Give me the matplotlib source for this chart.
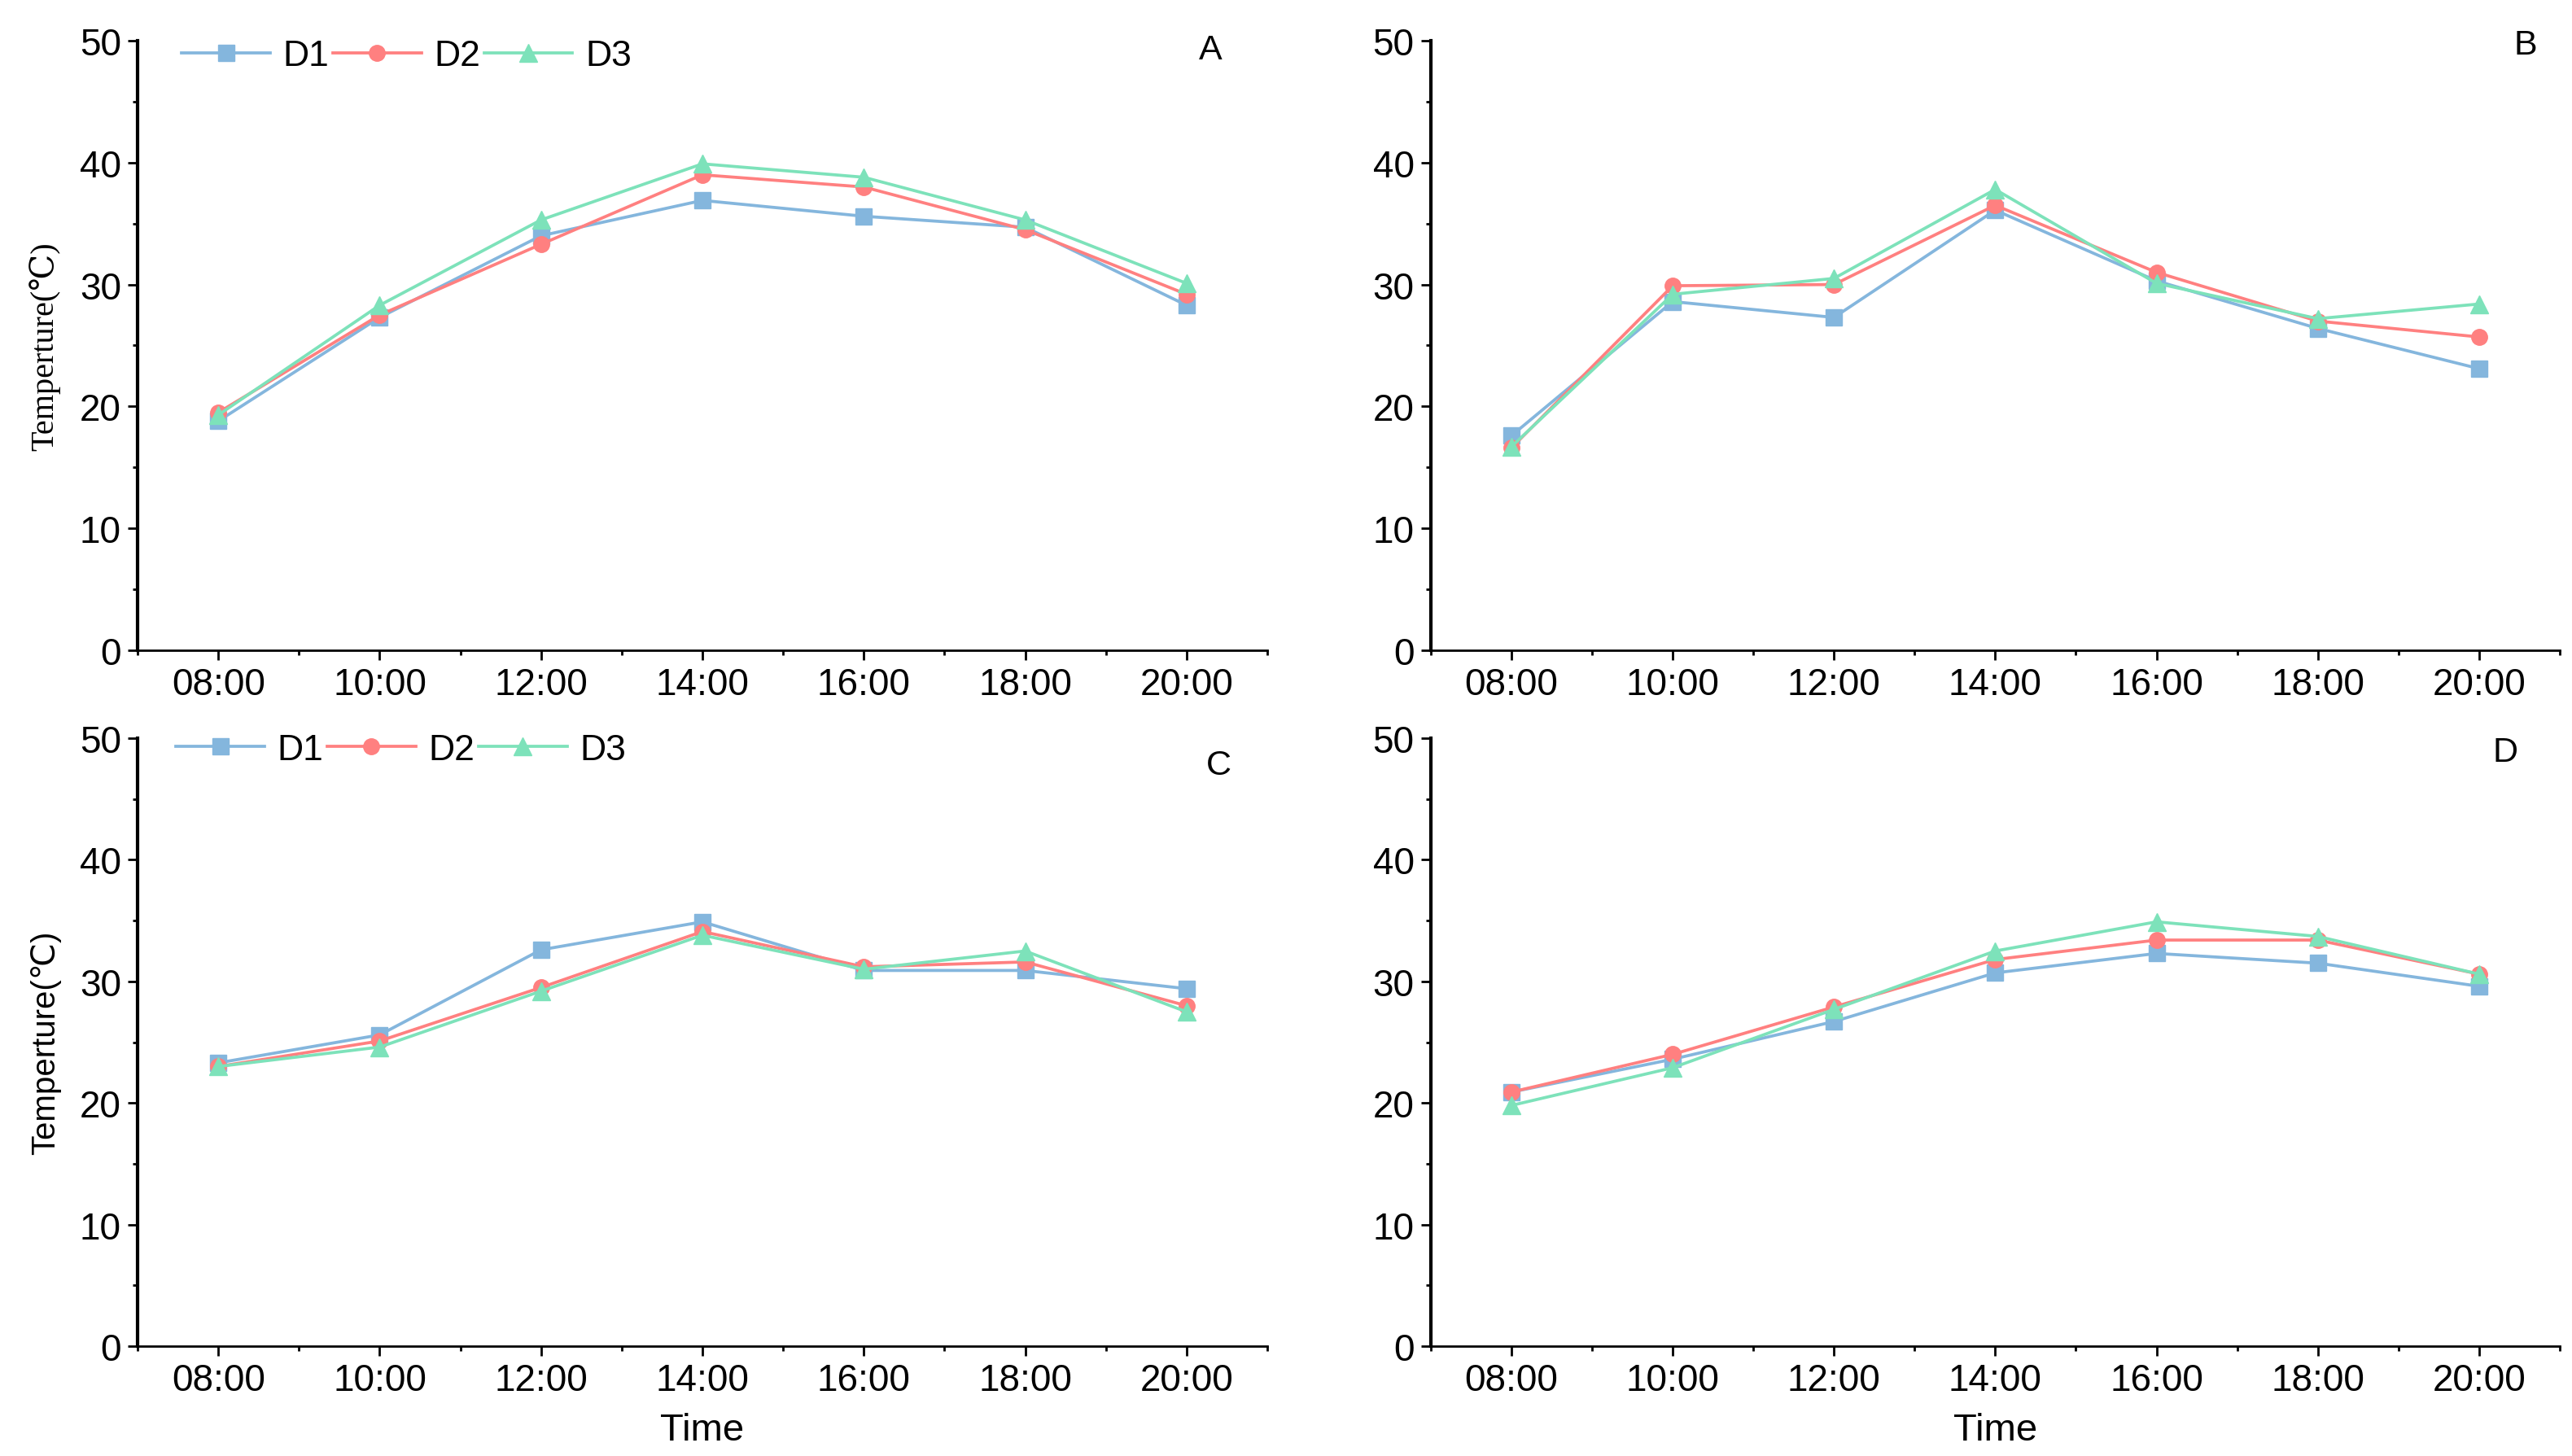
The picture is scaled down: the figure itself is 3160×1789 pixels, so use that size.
import matplotlib
matplotlib.use('Agg')
import matplotlib.pyplot as plt
from matplotlib.ticker import MultipleLocator, FixedLocator

times = ['08:00', '10:00', '12:00', '14:00', '16:00', '18:00', '20:00']
series_names = ['D1', 'D2', 'D3']

# panel A
a_d1 = [18.8, 27.3, 34.0, 36.9, 35.6, 34.7, 28.3]
a_d2 = [19.5, 27.5, 33.3, 39.0, 38.0, 34.5, 29.2]
a_d3 = [19.3, 28.3, 35.3, 39.9, 38.8, 35.3, 30.1]
# panel B
b_d1 = [17.6, 28.6, 27.3, 36.1, 30.3, 26.4, 23.1]
b_d2 = [16.6, 29.9, 30.0, 36.5, 31.0, 27.0, 25.7]
b_d3 = [16.7, 29.2, 30.5, 37.8, 30.1, 27.2, 28.4]
# panel C
c_d1 = [23.3, 25.6, 32.6, 34.9, 30.9, 30.9, 29.4]
c_d2 = [23.0, 25.1, 29.5, 34.1, 31.2, 31.6, 28.0]
c_d3 = [23.0, 24.6, 29.2, 33.8, 31.0, 32.5, 27.5]
# panel D
d_d1 = [20.9, 23.6, 26.7, 30.7, 32.3, 31.5, 29.6]
d_d2 = [20.9, 24.0, 27.9, 31.8, 33.4, 33.4, 30.6]
d_d3 = [19.8, 22.9, 27.7, 32.5, 34.9, 33.7, 30.6]

colors = ['#84B6DD', '#FF8080', '#7DE2BA']
markers = ['s', 'o', '^']
msizes = [14, 14, 16]

SANS = ['Liberation Sans', 'DejaVu Sans']
SERIF = ['Liberation Serif', 'DejaVu Serif']
plt.rcParams['font.family'] = SANS

fig = plt.figure(figsize=(31.6, 17.9), dpi=100)


def draw_panel(rect, data, letter, letter_pos, ylabel=None, ylabel_font=SANS,
               ylabel_size=29, legend_pos=None, xlabel=False):
    ax = fig.add_axes(rect)
    x = list(range(len(times)))
    for vals, name, c, m, ms in zip(data, series_names, colors, markers, msizes):
        ax.plot(x, vals, color=c, marker=m, markersize=ms, linewidth=2.7,
                label=name, clip_on=False)
    ax.set_xlim(-0.5, 6.5)
    ax.set_ylim(0, 50)
    ax.set_xticks(x)
    ax.set_xticklabels(times)
    ax.xaxis.set_minor_locator(FixedLocator([i + 0.5 for i in range(-1, 7)]))
    ax.yaxis.set_major_locator(MultipleLocator(10))
    ax.yaxis.set_minor_locator(MultipleLocator(5))
    ax.spines['top'].set_visible(False)
    ax.spines['right'].set_visible(False)
    ax.spines['left'].set_linewidth(3)
    ax.spines['bottom'].set_linewidth(2)
    ax.tick_params(axis='both', which='major', direction='out', length=8.6,
                   width=2, labelsize=33, pad=6)
    ax.tick_params(axis='both', which='minor', direction='out', length=4.3, width=2)
    ax.text(letter_pos[0], letter_pos[1], letter, transform=ax.transAxes,
            fontsize=31, ha='center', va='center')
    if ylabel:
        ax.set_ylabel(ylabel, fontsize=ylabel_size, family=ylabel_font)
        ax.yaxis.set_label_coords(-0.068, 0.5)
    if xlabel:
        ax.set_xlabel('Time', fontsize=34)
        ax.xaxis.set_label_coords(0.5, -0.108)
    if legend_pos:
        ax.legend(loc='center left', bbox_to_anchor=legend_pos, ncol=3,
                  frameon=False, fontsize=32, handlelength=2.45,
                  handletextpad=0.35, columnspacing=0.1, borderaxespad=0,
                  borderpad=0)
    return ax


draw_panel([0.0535, 0.5531, 0.4392, 0.4184], [a_d1, a_d2, a_d3], 'A',
           (0.950, 0.985), ylabel='Temperture(\u2103)', ylabel_font=SERIF,
           ylabel_size=29, legend_pos=(0.039, 0.975))
draw_panel([0.5563, 0.5531, 0.4389, 0.4184], [b_d1, b_d2, b_d3], 'B',
           (0.970, 0.993))
draw_panel([0.0535, 0.0754, 0.4392, 0.4173], [c_d1, c_d2, c_d3], 'C',
           (0.957, 0.956), ylabel='Temperture(\u2103)', ylabel_font=SANS,
           ylabel_size=29, legend_pos=(0.034, 0.981), xlabel=True)
draw_panel([0.5563, 0.0754, 0.4389, 0.4173], [d_d1, d_d2, d_d3], 'D',
           (0.952, 0.977), xlabel=True)

fig.savefig('out.png', dpi=100, facecolor='white')
